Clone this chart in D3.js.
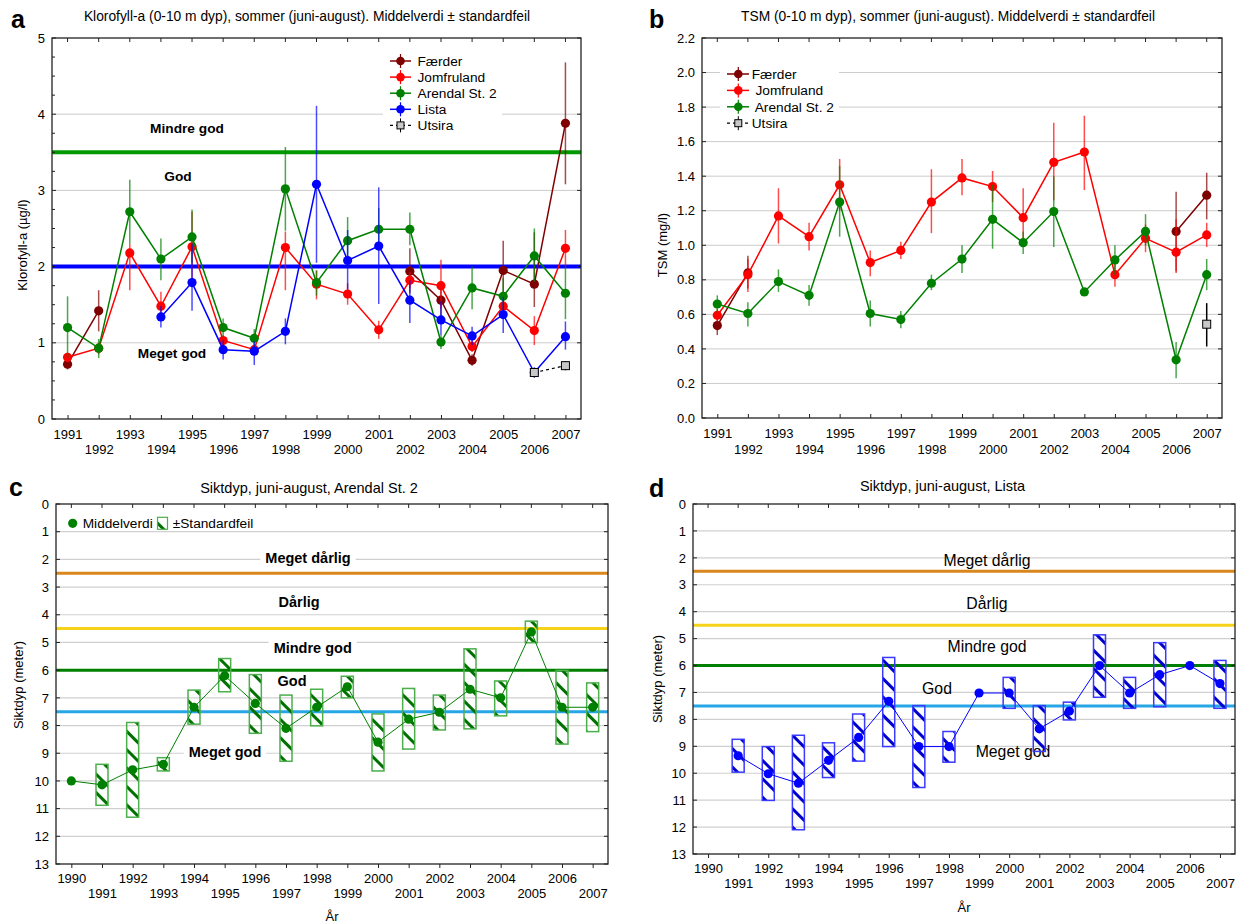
<!DOCTYPE html>
<html><head><meta charset="utf-8">
<script src="https://cdn.jsdelivr.net/npm/d3@7"></script>
<style>
body{margin:0;background:#fff}
svg{display:block}
text{font-family:"Liberation Sans",Arial,Helvetica,sans-serif;fill:#000}
</style>
</head><body>
<svg id="chart" width="1238" height="924"></svg>
<script>
// ---------------- DATA ----------------
const abYears = [1991,1992,1993,1994,1995,1996,1997,1998,1999,2000,2001,2002,2003,2004,2005,2006,2007];
const cdYears = [1990,1991,1992,1993,1994,1995,1996,1997,1998,1999,2000,2001,2002,2003,2004,2005,2006,2007];

// Panel a: Klorofyll-a (µg/l)
const aFaerder     = [0.72,1.42,null,null,null,null,null,null,null,null,null,1.94,1.56,0.77,1.95,1.77,3.88];
const aFaerderErr  = [[0.65,0.80],[1.15,1.69],null,null,null,null,null,null,null,null,null,[1.65,2.24],[1.35,1.76],[0.70,0.85],[1.60,2.34],[1.47,2.45],[3.08,4.68]];
const aJomfru      = [0.81,0.93,2.18,1.48,2.26,1.03,0.91,2.25,1.77,1.64,1.17,1.82,1.75,0.95,1.48,1.16,2.24];
const aJomfruErr   = [[0.75,0.87],[0.85,1.00],[1.69,2.30],[1.35,1.67],[1.80,2.72],[0.95,1.10],[0.85,0.98],[1.69,2.46],[1.57,1.95],[1.50,1.78],[1.05,1.29],[1.72,1.93],[1.45,2.09],[0.88,1.03],[1.36,1.60],[0.97,1.35],[2.00,2.48]];
const aArendal     = [1.20,0.93,2.72,2.10,2.39,1.20,1.06,3.02,1.79,2.34,2.49,2.49,1.01,1.72,1.61,2.14,1.65];
const aArendalErr  = [[0.80,1.61],[0.80,1.05],[2.30,3.14],[1.82,2.37],[2.05,2.75],[1.08,1.32],[0.94,1.18],[2.47,3.57],[1.62,1.95],[2.00,2.65],[2.22,2.77],[2.28,2.71],[0.92,1.10],[1.44,2.00],[1.38,1.85],[1.80,2.50],[1.31,2.00]];
const aLista       = [null,null,null,1.34,1.79,0.91,0.89,1.15,3.08,2.08,2.27,1.56,1.30,1.09,1.37,0.61,1.08];
const aListaErr    = [null,null,null,[1.20,1.48],[1.42,2.30],[0.78,1.03],[0.71,1.02],[0.98,1.32],[2.05,4.11],[1.70,2.48],[1.51,3.04],[1.26,1.82],[1.10,1.55],[0.97,1.21],[1.13,1.60],[0.54,0.68],[0.91,1.28]];
const aUtsira      = [null,null,null,null,null,null,null,null,null,null,null,null,null,null,null,0.61,0.70];
const aUtsiraErr   = [null,null,null,null,null,null,null,null,null,null,null,null,null,null,null,[0.55,0.67],[0.64,0.76]];
const aYTicks = [0,1,2,3,4,5];
const aYMinor = [0.25,0.5,0.75,1.25,1.5,1.75,2.25,2.5,2.75,3.25,3.5,3.75,4.25,4.5,4.75];
const aRefLines = [3.5, 2.0];

// Panel b: TSM (mg/l)
const bFaerder     = [0.535,0.84,null,null,null,null,null,null,null,null,null,null,null,null,null,1.08,1.29];
const bFaerderErr  = [[0.48,0.58],[0.75,0.94],null,null,null,null,null,null,null,null,null,null,null,null,null,[0.85,1.31],[1.15,1.42]];
const bJomfru      = [0.595,0.83,1.17,1.05,1.35,0.90,0.97,1.25,1.39,1.34,1.16,1.48,1.54,0.83,1.04,0.96,1.06];
const bJomfruErr   = [[0.56,0.63],[0.73,0.92],[1.01,1.33],[0.97,1.13],[1.20,1.50],[0.82,0.97],[0.92,1.02],[1.07,1.44],[1.29,1.50],[1.25,1.43],[1.00,1.33],[1.26,1.71],[1.32,1.75],[0.76,0.90],[0.96,1.12],[0.84,1.15],[0.99,1.13]];
const bArendal     = [0.66,0.605,0.79,0.71,1.25,0.605,0.57,0.78,0.92,1.15,1.015,1.195,0.73,0.915,1.08,0.337,0.83];
const bArendalErr  = [[0.61,0.71],[0.53,0.67],[0.73,0.86],[0.65,0.77],[1.05,1.46],[0.53,0.68],[0.52,0.62],[0.74,0.83],[0.84,1.00],[0.98,1.35],[0.95,1.08],[0.99,1.40],[0.71,0.75],[0.83,1.00],[1.00,1.18],[0.23,0.44],[0.74,0.92]];
const bUtsira      = [null,null,null,null,null,null,null,null,null,null,null,null,null,null,null,null,0.543];
const bUtsiraErr   = [null,null,null,null,null,null,null,null,null,null,null,null,null,null,null,null,[0.414,0.665]];
const bYTicks = [0,0.2,0.4,0.6,0.8,1.0,1.2,1.4,1.6,1.8,2.0,2.2];

// Panel c: Siktdyp Arendal St. 2 (meter)
const cMean = [10.0,10.14,9.6,9.40,7.34,6.2,7.2,8.1,7.34,6.6,8.6,7.77,7.52,6.69,7.0,4.62,7.34,7.34];
const cLow  = [null,9.40,7.89,9.16,6.72,5.58,6.16,6.9,6.69,6.22,7.58,6.66,6.9,5.23,6.39,4.23,6.01,6.46];
const cHigh = [null,10.88,11.31,9.64,7.95,6.78,8.28,9.29,8.01,7.0,9.64,8.85,8.16,8.12,7.65,5.01,8.67,8.22];

// Panel d: Siktdyp Lista (meter)
const dMean = [null,9.35,10.02,10.37,9.52,8.67,7.33,9.01,9.01,7.02,7.02,8.35,7.69,6.0,7.02,6.34,6.0,6.67];
const dLow  = [null,8.74,9.01,8.59,8.87,7.8,5.7,7.49,8.45,null,6.44,7.49,7.36,4.86,6.44,5.15,null,5.81];
const dHigh = [null,9.96,11.01,12.1,10.16,9.55,9.01,10.53,9.59,null,7.59,9.19,8.02,7.18,7.59,7.53,null,7.59];

const cdYTicks = [0,1,2,3,4,5,6,7,8,9,10,11,12,13];
const cdClassLines = [2.5, 4.5, 6.0, 7.5];
const cdClassColors = ["#d9861c", "#f7d21a", "#008000", "#27a6e6"];
const cdClassLabels = ["Meget dårlig", "Dårlig", "Mindre god", "God", "Meget god"];

// ---------------- DRAWING ----------------
const svg = d3.select("#chart");
const FONT = '"Liberation Sans",Arial,Helvetica,sans-serif';

const defs = svg.append("defs");
function hatch(id, color){
  const p = defs.append("pattern").attr("id", id).attr("patternUnits","userSpaceOnUse")
    .attr("width", 13).attr("height", 13).attr("patternTransform","rotate(-45)");
  p.append("rect").attr("x",0).attr("y",0).attr("width",3).attr("height",13).attr("fill",color);
}
hatch("hatchG", "#007000");
hatch("hatchB", "#0000cc");

function frameAndAxes(g, x, y, L, R, T, B, years, yTicks, yFmt, xRowOff, opts){
  opts = opts || {};
  const ya = g.append("g").attr("transform",`translate(${L},0)`)
    .call(d3.axisLeft(y).tickValues(yTicks).tickFormat(yFmt).tickSize(0).tickPadding(7));
  ya.select(".domain").remove();
  ya.selectAll("text").style("font-size","13px").style("font-family",FONT).attr("fill","#000");
  g.append("g").selectAll("line").data(yTicks).join("line")
    .attr("x1",L).attr("x2",L+4).attr("y1",d=>y(d)).attr("y2",d=>y(d)).attr("stroke","#222");
  if (opts.minor) g.append("g").selectAll("line").data(opts.minor).join("line")
    .attr("x1",L).attr("x2",L+3).attr("y1",d=>y(d)).attr("y2",d=>y(d)).attr("stroke","#222");
  g.append("g").selectAll("line").data(yTicks).join("line")
    .attr("x1",R).attr("x2",R-4).attr("y1",d=>y(d)).attr("y2",d=>y(d)).attr("stroke","#222");
  const xa = g.append("g").attr("transform",`translate(0,${B})`)
    .call(d3.axisBottom(x).tickValues(years).tickFormat(d3.format("d")).tickSize(opts.inward ? -4 : 4).tickPadding(3));
  xa.select(".domain").remove();
  xa.selectAll("line").attr("stroke","#222");
  xa.selectAll("text").style("font-size","13px").style("font-family",FONT).attr("fill","#000")
    .attr("y",(d,i)=> i%2===0 ? xRowOff[0] : xRowOff[1]).attr("dy","0.35em");
  g.append("g").selectAll("line").data(years).join("line")
    .attr("x1",d=>x(d)).attr("x2",d=>x(d)).attr("y1",T).attr("y2",T+4).attr("stroke","#222");
  g.append("rect").attr("x",L).attr("y",T).attr("width",R-L).attr("height",B-T)
    .attr("fill","none").attr("stroke","#222").attr("stroke-width",1.3);
}

function texts(g, o){
  g.append("text").attr("x",o.letterX).attr("y",o.letterY).text(o.letter)
    .style("font-size","25px").style("font-weight","bold");
  g.append("text").attr("x",o.titleX).attr("y",o.titleY).attr("text-anchor","middle")
    .text(o.title).style("font-size",o.titleSize+"px");
  g.append("text").attr("transform",`translate(${o.ylabX},${o.ylabY}) rotate(-90)`)
    .attr("text-anchor","middle").attr("dy","0.35em").text(o.ylab).style("font-size","13px");
  if (o.xlab) g.append("text").attr("x",o.xlabX).attr("y",o.xlabY).attr("text-anchor","middle")
    .attr("dy","0.35em").text(o.xlab).style("font-size","13px");
}

function labelText(g, x, yv, txt, bold, size, bg){
  const t = g.append("text").attr("x",x).attr("y",yv).attr("text-anchor","middle").attr("dy","0.35em")
    .text(txt).style("font-size",size+"px").style("font-weight",bold?"bold":"normal");
  if (bg){
    const bb = t.node().getBBox();
    g.insert("rect", () => t.node()).attr("x",bb.x-5).attr("y",bb.y+1).attr("width",bb.width+10).attr("height",bb.height-2).attr("fill","#fff");
  }
}

// ----- Line panels (a, b) -----
function linePanel(cfg){
  const g = svg.append("g");
  const {L,R,T,B} = cfg;
  const x = d3.scaleLinear().domain([1990.5,2007.5]).range([L,R]);
  const y = d3.scaleLinear().domain([0,cfg.ymax]).range([B,T]);
  g.append("g").selectAll("line").data(cfg.grid).join("line")
    .attr("x1",L).attr("x2",R).attr("y1",d=>y(d)).attr("y2",d=>y(d))
    .attr("stroke","#cccccc").attr("stroke-width",1);
  (cfg.labels||[]).forEach(l => labelText(g, l.x, y(l.v), l.t, true, 13.7, l.bg));
  (cfg.refs||[]).forEach(r => g.append("line").attr("x1",L).attr("x2",R).attr("y1",y(r.v)).attr("y2",y(r.v))
    .attr("stroke",r.c).attr("stroke-width",4));
  cfg.series.forEach(s => {
    const pts = cfg.years.map((yr,i)=>({yr, v:s.vals[i], e:s.err[i]}));
    const sg = g.append("g");
    sg.append("path").datum(pts)
      .attr("d", d3.line().defined(d=>d.v!=null).x(d=>x(d.yr)).y(d=>y(d.v)))
      .attr("fill","none").attr("stroke",s.line).attr("stroke-width",s.utsira?1.2:1.5)
      .attr("stroke-dasharray", s.utsira ? "3,3" : null);
    sg.selectAll("line.err").data(pts.filter(d=>d.e)).join("line").attr("class","err")
      .attr("x1",d=>x(d.yr)).attr("x2",d=>x(d.yr)).attr("y1",d=>y(d.e[0])).attr("y2",d=>y(d.e[1]))
      .attr("stroke",s.line).attr("stroke-width",1.5).attr("stroke-opacity",s.utsira?1:0.7);
    if (s.utsira){
      sg.selectAll("rect.m").data(pts.filter(d=>d.v!=null)).join("rect").attr("class","m")
        .attr("x",d=>x(d.yr)-4).attr("y",d=>y(d.v)-4).attr("width",8).attr("height",8)
        .attr("fill","#c8c8c8").attr("stroke","#000").attr("stroke-width",1);
    } else {
      sg.selectAll("circle").data(pts.filter(d=>d.v!=null)).join("circle")
        .attr("cx",d=>x(d.yr)).attr("cy",d=>y(d.v)).attr("r",4.6).attr("fill",s.color);
    }
  });
  const lg = cfg.legend;
  g.append("rect").attr("x",lg.bx).attr("y",lg.by).attr("width",lg.bw).attr("height",lg.bh).attr("fill","#fff");
  cfg.series.forEach((s,i) => {
    const ly = lg.y0 + i*lg.dy;
    if (s.utsira){
      g.append("line").attr("x1",lg.x1).attr("x2",lg.x2).attr("y1",ly).attr("y2",ly)
        .attr("stroke","#000").attr("stroke-width",1.2).attr("stroke-dasharray","3,3");
      g.append("rect").attr("x",lg.xm-3.5).attr("y",ly-3.5).attr("width",7).attr("height",7)
        .attr("fill","#c8c8c8").attr("stroke","#000");
      g.append("line").attr("x1",lg.xm).attr("x2",lg.xm).attr("y1",ly-7).attr("y2",ly-3.5).attr("stroke","#000");
      g.append("line").attr("x1",lg.xm).attr("x2",lg.xm).attr("y1",ly+3.5).attr("y2",ly+7).attr("stroke","#000");
    } else {
      g.append("line").attr("x1",lg.x1).attr("x2",lg.x2).attr("y1",ly).attr("y2",ly)
        .attr("stroke",s.line).attr("stroke-width",1.5);
      g.append("line").attr("x1",lg.xm).attr("x2",lg.xm).attr("y1",ly-7).attr("y2",ly+7)
        .attr("stroke",s.line).attr("stroke-width",1.2);
      g.append("circle").attr("cx",lg.xm).attr("cy",ly).attr("r",4.3).attr("fill",s.color);
    }
    g.append("text").attr("x",lg.tx).attr("y",ly).attr("dy","0.35em").text(s.legName)
      .style("font-size","13.7px").style("white-space","pre").attr("xml:space","preserve");
  });
  frameAndAxes(g, x, y, L, R, T, B, cfg.years, cfg.yticks, cfg.yfmt, cfg.xRowOff, {inward:true, minor:cfg.minor});
  texts(g, cfg.text);
}

linePanel({
  L:52, R:581, T:38, B:419, ymax:5, years:abYears, yticks:aYTicks, yfmt:d3.format("d"), minor:aYMinor,
  grid:[1,2,3,4], xRowOff:[15,30],
  refs:[{v:aRefLines[0], c:"#009a00"},{v:aRefLines[1], c:"#0000ff"}],
  labels:[{t:"Mindre god", v:3.82, x:187},{t:"God", v:3.19, x:178},{t:"Meget god", v:0.87, x:172, bg:true}],
  series:[
    {legName:"Færder", vals:aFaerder, err:aFaerderErr, color:"#7f0000", line:"#7f0000"},
    {legName:"Jomfruland", vals:aJomfru, err:aJomfruErr, color:"#ff0000", line:"#ff0000"},
    {legName:"Arendal St. 2", vals:aArendal, err:aArendalErr, color:"#008000", line:"#008000"},
    {legName:"Lista", vals:aLista, err:aListaErr, color:"#0000ff", line:"#0000ff"},
    {legName:"Utsira", vals:aUtsira, err:aUtsiraErr, color:"#c8c8c8", line:"#000", utsira:true}
  ],
  legend:{bx:383, by:50, bw:119, bh:84, x1:390, x2:411, xm:400.5, tx:417.5, y0:61, dy:16.1},
  text:{letter:"a", letterX:11, letterY:28, title:"Klorofyll-a (0-10 m dyp), sommer (juni-august). Middelverdi ± standardfeil",
        titleX:307, titleY:21, titleSize:13.8, ylab:"Klorofyll-a (µg/l)", ylabX:22, ylabY:245}
});

linePanel({
  L:702, R:1222, T:38, B:418, ymax:2.2, years:abYears, yticks:bYTicks, yfmt:d3.format(".1f"),
  grid:[0.2,0.4,0.6,0.8,1.0,1.2,1.4,1.6,1.8,2.0], xRowOff:[15,31],
  refs:[], labels:[],
  series:[
    {legName:"Færder", vals:bFaerder, err:bFaerderErr, color:"#7f0000", line:"#7f0000"},
    {legName:" Jomfruland", vals:bJomfru, err:bJomfruErr, color:"#ff0000", line:"#ff0000"},
    {legName:" Arendal St. 2", vals:bArendal, err:bArendalErr, color:"#008000", line:"#008000"},
    {legName:"Utsira", vals:bUtsira, err:bUtsiraErr, color:"#c8c8c8", line:"#000", utsira:true}
  ],
  legend:{bx:720, by:64, bw:119, bh:68, x1:727, x2:749, xm:738.3, tx:751.7, y0:74, dy:16.4},
  text:{letter:"b", letterX:649, letterY:28, title:"TSM (0-10 m dyp), sommer (juni-august). Middelverdi ± standardfeil",
        titleX:948, titleY:21, titleSize:13.8, ylab:"TSM (mg/l)", ylabX:662, ylabY:245}
});

// ----- Box panels (c, d) -----
function boxPanel(cfg){
  const g = svg.append("g");
  const {L,R,T,B} = cfg;
  const x = d3.scaleLinear().domain([1989.5,2007.5]).range([L,R]);
  const y = d3.scaleLinear().domain([0,13]).range([T,B]);
  g.append("g").selectAll("line").data(cdYTicks.slice(1,13)).join("line")
    .attr("x1",L).attr("x2",R).attr("y1",d=>y(d)).attr("y2",d=>y(d))
    .attr("stroke","#d0d0d0").attr("stroke-width",1.2);
  cfg.labels.forEach((l,i) => labelText(g, l.x, y(l.v), cdClassLabels[i], cfg.bold, cfg.labelSize, cfg.bold));
  cdClassLines.forEach((v,i) => g.append("line").attr("x1",L).attr("x2",R).attr("y1",y(v)).attr("y2",y(v))
    .attr("stroke",cdClassColors[i]).attr("stroke-width",3));
  const pts = cdYears.map((yr,i)=>({yr, m:cfg.mean[i], lo:cfg.low[i], hi:cfg.high[i]}));
  const bw = 12;
  const bx = pts.filter(d=>d.lo!=null);
  g.append("g").selectAll("rect").data(bx).join("rect")
    .attr("x",d=>x(d.yr)-bw/2).attr("y",d=>y(d.lo)).attr("width",bw).attr("height",d=>y(d.hi)-y(d.lo))
    .attr("fill",`url(#${cfg.hatch})`).attr("stroke",cfg.boxStroke).attr("stroke-width",1.5);
  g.append("path").datum(pts).attr("d", d3.line().defined(d=>d.m!=null).x(d=>x(d.yr)).y(d=>y(d.m)))
    .attr("fill","none").attr("stroke",cfg.color).attr("stroke-width",1);
  g.append("g").selectAll("circle").data(pts.filter(d=>d.m!=null)).join("circle")
    .attr("cx",d=>x(d.yr)).attr("cy",d=>y(d.m)).attr("r",4.6).attr("fill",cfg.color);
  if (cfg.legend){
    const lg = cfg.legend;
    g.append("circle").attr("cx",lg.cx).attr("cy",lg.cy).attr("r",4.6).attr("fill",cfg.color);
    g.append("text").attr("x",lg.t1).attr("y",lg.cy).attr("dy","0.35em").text("Middelverdi").style("font-size","13.7px");
    g.append("rect").attr("x",lg.rx).attr("y",lg.cy-6).attr("width",10).attr("height",12)
      .attr("fill",`url(#${cfg.hatch})`).attr("stroke",cfg.boxStroke).attr("stroke-width",1.2);
    g.append("text").attr("x",lg.t2).attr("y",lg.cy).attr("dy","0.35em").text("±Standardfeil").style("font-size","13.7px");
  }
  frameAndAxes(g, x, y, L, R, T, B, cdYears, cdYTicks, d3.format("d"), cfg.xRowOff, {inward:false});
  texts(g, cfg.text);
}

boxPanel({
  L:56, R:608, T:504, B:864, mean:cMean, low:cLow, high:cHigh, color:"#008000", boxStroke:"#4caf4c", hatch:"hatchG",
  bold:true, labelSize:14.5, xRowOff:[14,29],
  labels:[{v:1.95,x:308},{v:3.53,x:299},{v:5.2,x:312.7},{v:6.38,x:292},{v:8.95,x:225}],
  legend:{cx:72.7, cy:523.3, t1:82.7, rx:157.5, t2:172.7},
  text:{letter:"c", letterX:9, letterY:496, title:"Siktdyp, juni-august, Arendal St. 2", titleX:309, titleY:493, titleSize:14.5,
        ylab:"Siktdyp (meter)", ylabX:18, ylabY:685, xlab:"År", xlabX:332, xlabY:916}
});

boxPanel({
  L:693, R:1235, T:504, B:854, mean:dMean, low:dLow, high:dHigh, color:"#0000ff", boxStroke:"#3a3aff", hatch:"hatchB",
  bold:false, labelSize:15.8, xRowOff:[14,29],
  labels:[{v:2.08,x:987},{v:3.7,x:987},{v:5.3,x:987},{v:6.85,x:937},{v:9.2,x:1013}],
  legend:null,
  text:{letter:"d", letterX:649, letterY:497, title:"Siktdyp, juni-august, Lista", titleX:942.5, titleY:491, titleSize:14.5,
        ylab:"Siktdyp (meter)", ylabX:657, ylabY:679, xlab:"År", xlabX:964, xlabY:907}
});
</script>
</body></html>
